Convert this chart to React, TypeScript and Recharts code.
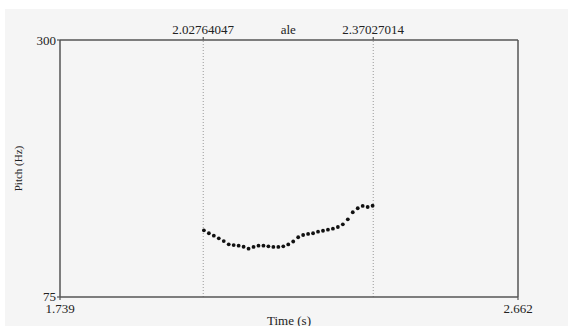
import React from "react";
import {
  ScatterChart,
  Scatter,
  XAxis,
  YAxis,
  ReferenceLine,
} from "recharts";

// Praat-style pitch track of the interval "ale"
const times = [
  2.029, 2.039, 2.049, 2.059, 2.069, 2.079, 2.089, 2.099, 2.109, 2.119,
  2.129, 2.139, 2.149, 2.159, 2.169, 2.179, 2.189, 2.199, 2.209, 2.219,
  2.229, 2.239, 2.249, 2.259, 2.269, 2.279, 2.289, 2.299, 2.309, 2.319,
  2.329, 2.339, 2.349, 2.359, 2.369,
];
const pitch = [
  133.4, 130.8, 128.7, 126.4, 124.0, 121.1, 120.5, 119.9, 119.0, 117.3,
  118.8, 119.9, 119.9, 119.4, 118.8, 118.8, 119.4, 121.0, 123.6, 127.3,
  129.3, 130.2, 130.8, 132.2, 133.0, 133.9, 134.8, 136.3, 138.6, 143.0,
  149.2, 152.7, 154.7, 153.8, 154.9,
];
const timeRange = [1.739, 2.662];
const pitchRange = [75, 300];
const boundaries = [2.02764047, 2.37027014];
const boundaryLabels = ["2.02764047", "2.37027014"];
const intervalLabel = "ale";

const data = times.map((t, i) => ({ t, f0: pitch[i] }));

const W = 568;
const H = 326;
const LEFT = 60;
const RIGHT = 518;
const TOP = 40;
const BOTTOM = 297;
const FONT = "'Liberation Serif', 'Times New Roman', Times, serif";
const INK = "#222";
const FRAME = "#555";

const txt = { fontFamily: FONT, fontSize: 13, fill: INK } as const;

function BottomTick(props: any) {
  const { x, payload } = props;
  return (
    <g>
      <line x1={x} x2={x} y1={BOTTOM} y2={BOTTOM + 3} stroke={FRAME} strokeWidth={1.2} />
      <text x={x} y={BOTTOM + 11} textAnchor="middle" dominantBaseline="central" style={txt}>
        {payload.value.toFixed(3)}
      </text>
    </g>
  );
}

function LeftTick(props: any) {
  const { y, payload } = props;
  return (
    <g>
      <line x1={LEFT - 3} x2={LEFT} y1={y} y2={y} stroke={FRAME} strokeWidth={1.2} />
      <text x={LEFT - 4} y={payload.value === pitchRange[0] ? y - 1 : y}
        textAnchor="end" dominantBaseline="central" style={txt}>
        {payload.value}
      </text>
    </g>
  );
}

// label drawn above the top frame for a vertical reference line
const topLabel = (text: string, mark: boolean) => (p: any) => {
  const x = p.viewBox.x;
  return (
    <g>
      {mark && <line x1={x} x2={x} y1={TOP - 3} y2={TOP} stroke={FRAME} strokeWidth={1.2} />}
      <text x={x} y={TOP - 11} textAnchor="middle" dominantBaseline="central" style={txt}>
        {text}
      </text>
    </g>
  );
};

function Dot(props: any) {
  return <circle cx={props.cx} cy={props.cy} r={1.9} fill="#111" />;
}

export default function App() {
  const mid = (boundaries[0] + boundaries[1]) / 2;
  return (
    <div style={{ position: "fixed", left: 0, top: 0, width: W, height: H, background: "#fff", fontFamily: FONT }}>
      <div style={{ position: "absolute", left: 5, top: 9, right: 0, bottom: 0, background: "#f5f5f5" }} />
      <div style={{ position: "absolute", left: 0, top: 0 }}>
        <ScatterChart width={W} height={H} margin={{ top: TOP, right: 0, bottom: 0, left: 0 }}>
          <XAxis
            xAxisId="bottom"
            dataKey="t"
            type="number"
            domain={timeRange}
            ticks={timeRange}
            allowDataOverflow
            height={H - BOTTOM}
            axisLine={{ stroke: FRAME, strokeWidth: 1.5 }}
            tickLine={false}
            tick={<BottomTick />}
            interval={0}
            label={{
              content: (p: any) => (
                <text x={p.viewBox.x + p.viewBox.width / 2} y={320} textAnchor="middle"
                  dominantBaseline="central" style={txt}>
                  Time (s)
                </text>
              ),
            }}
          />
          <YAxis
            yAxisId="left"
            dataKey="f0"
            type="number"
            domain={pitchRange}
            ticks={pitchRange}
            allowDataOverflow
            width={LEFT}
            axisLine={{ stroke: FRAME, strokeWidth: 1.5 }}
            tickLine={false}
            tick={<LeftTick />}
            interval={0}
            label={{
              content: (p: any) => {
                const cy = p.viewBox.y + p.viewBox.height / 2;
                return (
                  <text x={18} y={cy} transform={`rotate(-90 18 ${cy})`} textAnchor="middle"
                    dominantBaseline="central" style={{ ...txt, fontSize: 11 }}>
                    Pitch (Hz)
                  </text>
                );
              },
            }}
          />
          <YAxis
            yAxisId="right"
            orientation="right"
            type="number"
            domain={pitchRange}
            width={W - RIGHT}
            axisLine={{ stroke: FRAME, strokeWidth: 1.5 }}
            tickLine={false}
            tick={false}
          />
          <ReferenceLine xAxisId="bottom" yAxisId="left" y={pitchRange[1]}
            stroke={FRAME} strokeWidth={1.5} />
          {boundaries.map((b, i) => (
            <ReferenceLine key={b} xAxisId="bottom" yAxisId="left" x={b}
              stroke="#999" strokeWidth={1} strokeDasharray="1 2"
              label={{ content: topLabel(boundaryLabels[i], true) }} />
          ))}
          <ReferenceLine xAxisId="bottom" yAxisId="left" x={mid} stroke="none"
            label={{ content: topLabel(intervalLabel, false) }} />
          <Scatter
            xAxisId="bottom"
            yAxisId="left"
            data={data}
            shape={<Dot />}
            isAnimationActive={false}
          />
        </ScatterChart>
      </div>
    </div>
  );
}
